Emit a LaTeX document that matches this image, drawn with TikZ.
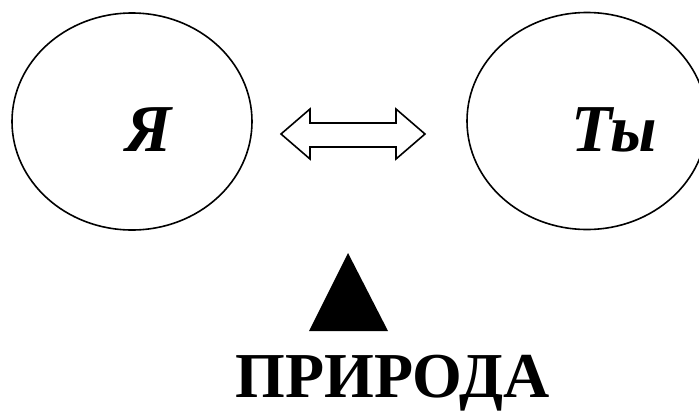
\documentclass[tikz,border=0pt]{standalone}
\usepackage{fontspec}
\setmainfont{Liberation Serif}
\usetikzlibrary{shapes.geometric}
\begin{document}
\begin{tikzpicture}[x=1pt,y=-1pt,
  circ/.style={draw,ellipse,line width=1.6pt,minimum width=240pt,minimum height=217pt,inner sep=0pt},
  word/.style={font=\fontsize{67}{70}\selectfont\bfseries\itshape,inner sep=0pt,anchor=center},
  title/.style={font=\fontsize{64}{70}\selectfont\bfseries,inner sep=0pt},
  outline/.style={draw,line width=1.6pt,line join=miter,fill=white}]
\useasboundingbox (0,0) rectangle (699,410);
\node[circ] (me) at (132,121.5) {};
\node[circ] (you) at (587,121) {};
\node[word] (ya) at (149,130) {Я};
\node[word] (ty) at (614,130) {Ты};
% double arrow
\coordinate (lt) at (281,134);
\coordinate (rt) at (425,134);
\draw[outline] (lt) -- (310,109) -- (310,123) -- (396,123) -- (396,109) -- (rt)
  -- (396,159) -- (396,147) -- (310,147) -- (310,159) -- cycle;
% triangle
\coordinate (apex) at (348,253);
\fill (apex) -- (388,331) -- (309,331) -- cycle;
\node[title,anchor=base] (nat) at (392.5,397) {ПРИРОДА};
\end{tikzpicture}
\end{document}
